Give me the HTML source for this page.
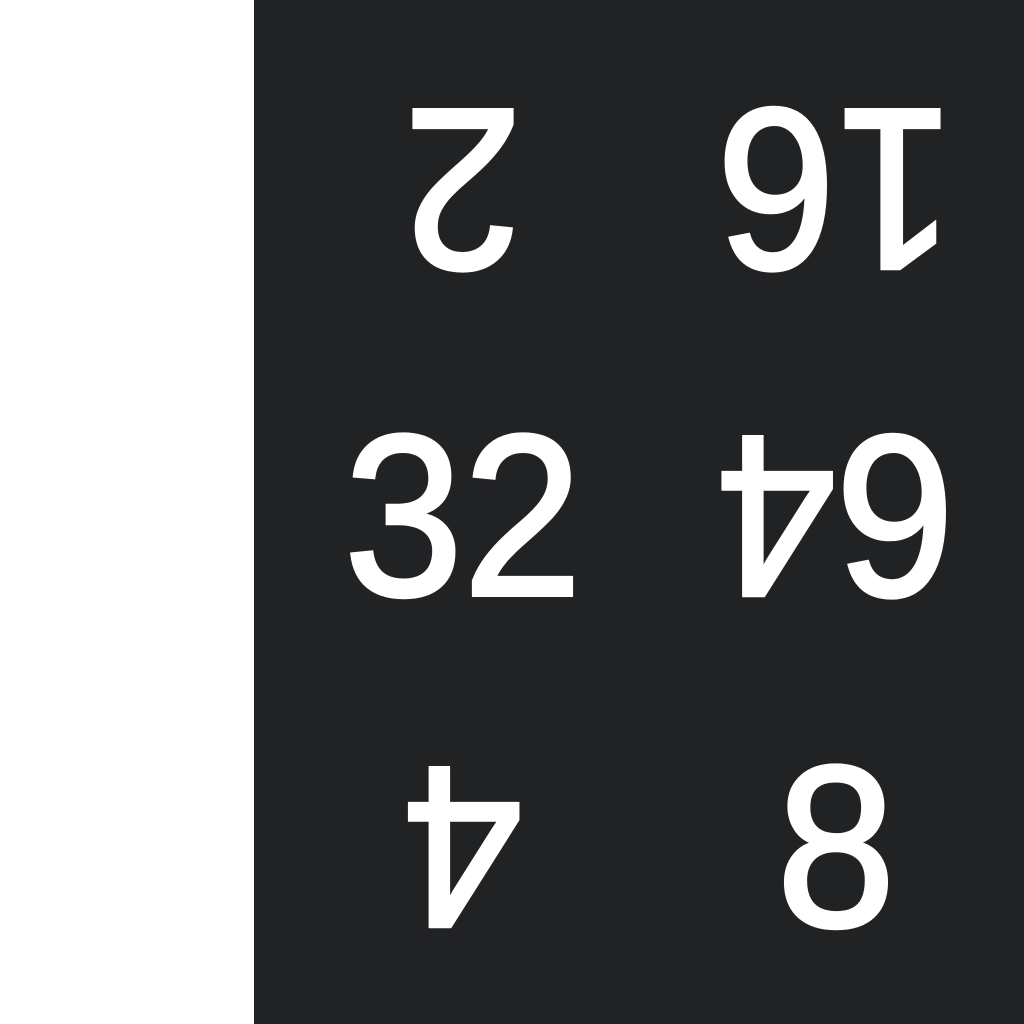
<!DOCTYPE html>
<html><head><meta charset="utf-8">
<style>
html,body{margin:0;padding:0;}
body{width:1024px;height:1024px;position:relative;overflow:hidden;background:#fff;font-family:"Liberation Sans",sans-serif;}
#panel{position:absolute;left:254px;top:0;width:770px;height:1024px;background:#212224;}
.tile{position:absolute;width:300px;height:230px;line-height:230px;text-align:center;color:#fff;font-size:230px;font-weight:normal;-webkit-text-stroke:4px #fff;text-shadow:0 0 3px rgba(255,255,255,0.5);}
</style></head><body>
<div id="left-strip" style="position:absolute;left:0;top:0;width:254px;height:1024px;background:#fff"></div>
<div id="panel"></div>
<script>
const values = [2, 16, 32, 64, 4, 8];
const rotated = [true, true, false, true, true, false];
const colCenters = [463, 836];
const rowCenters = [187, 514, 845];
const panel = document.getElementById('panel');
values.forEach((v, i) => {
  const d = document.createElement('div');
  d.className = 'tile';
  
  
  d.textContent = v;
  const cx = colCenters[i % 2] - 254;
  const cy = rowCenters[Math.floor(i / 2)];
  d.style.left = (cx - 150) + 'px';
  d.style.top = (cy - 113) + 'px';
  d.style.transform = (rotated[i] ? 'rotate(180deg) ' : '') + 'scaleX(0.93)';
  panel.appendChild(d);
});
</script>
</body></html>
